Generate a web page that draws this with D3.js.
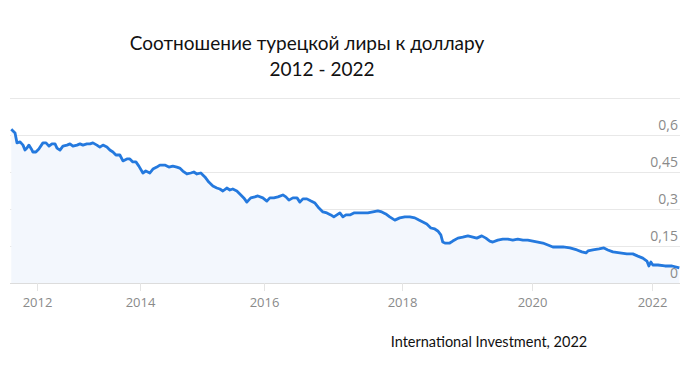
<!DOCTYPE html>
<html>
<head>
<meta charset="utf-8">
<script src="https://cdn.jsdelivr.net/npm/d3@7"></script>
<style>
  body { margin: 0; background: #fff; }
  svg { display: block; }
</style>
</head>
<body>
<svg id="chart" width="695" height="367"></svg>
<script>
// lira / dollar
const dates = [
  "2011-07-01","2011-07-28","2011-08-11","2011-09-02","2011-09-23","2011-10-07","2011-10-21","2011-11-04","2011-11-26","2011-12-03","2011-12-24",
  "2012-01-14","2012-02-12","2012-03-05","2012-03-26","2012-04-16","2012-05-08","2012-05-22","2012-06-12","2012-07-03","2012-08-01","2012-08-22","2012-09-12","2012-10-11","2012-11-01","2012-11-22","2012-12-20",
  "2013-01-11","2013-02-01","2013-03-01","2013-03-22","2013-04-13","2013-05-11","2013-06-01","2013-06-23","2013-07-14","2013-08-11","2013-09-02","2013-09-30","2013-10-21","2013-11-11","2013-12-03","2013-12-24",
  "2014-01-18","2014-02-04","2014-02-28","2014-03-18","2014-04-10","2014-04-28","2014-05-27","2014-06-20","2014-07-13","2014-08-06","2014-08-23","2014-09-10","2014-10-04","2014-10-27","2014-11-14","2014-12-02","2014-12-25",
  "2015-01-18","2015-02-10","2015-03-06","2015-03-29","2015-04-16","2015-05-04","2015-05-27","2015-06-14","2015-07-01","2015-07-25","2015-08-12","2015-09-04","2015-09-22","2015-10-15","2015-11-08","2015-11-26","2015-12-25",
  "2016-01-16","2016-02-01","2016-02-22","2016-03-15","2016-04-10","2016-04-26","2016-05-12","2016-06-02","2016-06-24","2016-07-09","2016-07-25","2016-08-15","2016-09-06","2016-09-27","2016-10-18","2016-11-08","2016-11-29","2016-12-20",
  "2017-01-05","2017-01-21","2017-02-06","2017-02-22","2017-03-10","2017-03-31","2017-04-21","2017-05-12","2017-06-08","2017-07-04","2017-07-31","2017-08-26","2017-09-16","2017-10-07","2017-10-28","2017-11-24","2017-12-20",
  "2018-01-17","2018-02-14","2018-03-14","2018-04-06","2018-04-28","2018-05-20","2018-06-12","2018-07-04","2018-07-21","2018-08-07","2018-08-18","2018-08-30","2018-09-15","2018-09-26","2018-10-13","2018-11-11","2018-12-08",
  "2019-01-06","2019-02-03","2019-02-25","2019-03-25","2019-04-17","2019-05-09","2019-05-26","2019-06-23","2019-07-21","2019-08-18","2019-09-15","2019-10-13","2019-11-11","2019-12-08",
  "2020-01-06","2020-02-06","2020-03-07","2020-04-07","2020-05-07","2020-06-01","2020-07-08","2020-08-19","2020-10-01","2020-10-31","2020-11-25","2020-12-07",
  "2021-01-06","2021-02-12","2021-03-14","2021-04-07","2021-05-08","2021-06-19","2021-08-01","2021-09-06","2021-10-07","2021-11-06","2021-12-01","2021-12-13","2021-12-25",
  "2022-01-06","2022-02-06","2022-03-20","2022-05-02","2022-06-15"
];
const rate = [
  0.623,0.608,0.568,0.572,0.559,0.539,0.547,0.559,0.539,0.531,0.531,
  0.543,0.568,0.568,0.555,0.564,0.564,0.547,0.539,0.555,0.559,0.564,0.555,0.559,0.564,0.559,0.564,
  0.564,0.568,0.559,0.551,0.559,0.551,0.539,0.531,0.519,0.519,0.495,0.503,0.503,0.491,0.491,0.474,
  0.446,0.454,0.446,0.462,0.470,0.478,0.478,0.470,0.474,0.470,0.466,0.454,0.442,0.446,0.450,0.442,0.446,
  0.430,0.409,0.393,0.385,0.381,0.373,0.385,0.377,0.381,0.373,0.361,0.345,0.328,0.345,0.349,0.353,0.345,
  0.332,0.345,0.345,0.349,0.357,0.349,0.336,0.345,0.345,0.328,0.341,0.341,0.332,0.324,0.304,0.288,0.284,0.276,
  0.268,0.276,0.284,0.268,0.276,0.276,0.284,0.284,0.284,0.284,0.288,0.292,0.288,0.280,0.268,0.255,0.264,
  0.268,0.268,0.264,0.255,0.247,0.239,0.223,0.219,0.211,0.195,0.166,0.162,0.162,0.162,0.170,0.182,0.186,
  0.191,0.186,0.182,0.191,0.182,0.170,0.166,0.174,0.178,0.178,0.174,0.178,0.174,0.174,
  0.170,0.166,0.162,0.154,0.146,0.146,0.146,0.142,0.134,0.126,0.122,0.130,
  0.134,0.138,0.142,0.134,0.126,0.122,0.118,0.118,0.109,0.101,0.089,0.069,0.085,
  0.073,0.073,0.069,0.069,0.061
];
const years = [2012, 2014, 2016, 2018, 2020, 2022];
const yTicks = [0, 0.15, 0.3, 0.45, 0.6, 0.75];
const yLabels = [0, 0.15, 0.3, 0.45, 0.6];

const title1 = "Соотношение турецкой лиры к доллару";
const title2 = "2012 - 2022";
const source = "International Investment, 2022";

const parse = d3.timeParse("%Y-%m-%d");
const data = dates.map((d, i) => ({ date: parse(d), value: rate[i] }));

const svg = d3.select("#chart");
const plotLeft = 10, plotRight = 680, plotTop = 97, plotBottom = 283;

// the source axis spaces years unevenly, so the time scale is piecewise
const x = d3.scaleTime()
  .domain([parse("2011-06-22")].concat(years.map(y => new Date(y, 0, 1)), [parse("2022-06-19")]))
  .range([plotLeft, 37, 140, 264, 402, 532, 652, plotRight]);

const y = d3.scaleLinear().domain([0, 0.75]).range([plotBottom, plotTop + 1]);

const ru = d3.formatLocale({ decimal: ",", thousands: " ", grouping: [3], currency: ["", ""] });
const fmt = ru.format(".2~f");

// grid
svg.append("g")
  .selectAll("line")
  .data(yTicks)
  .join("line")
  .attr("x1", plotLeft).attr("x2", plotRight)
  .attr("y1", d => Math.round(y(d)) + 0.5).attr("y2", d => Math.round(y(d)) + 0.5)
  .attr("stroke", d => d === 0 ? "#dcdcdc" : "#e8e8e8")
  .attr("stroke-width", 1);

// area + line
const area = d3.area()
  .x(d => x(d.date))
  .y0(plotBottom)
  .y1(d => y(d.value));

const line = d3.line()
  .x(d => x(d.date))
  .y(d => y(d.value));

svg.append("path")
  .datum(data)
  .attr("d", area)
  .attr("fill", "#f3f7fd");

svg.append("path")
  .datum(data)
  .attr("d", line)
  .attr("fill", "none")
  .attr("stroke", "#2479de")
  .attr("stroke-width", 2.8)
  .attr("stroke-linejoin", "round");

// x axis
const xAxis = svg.append("g")
  .attr("transform", `translate(0,${plotBottom})`)
  .call(d3.axisBottom(x)
    .tickValues(years.map(y => new Date(y, 0, 1)))
    .tickFormat(d3.timeFormat("%Y"))
    .tickSize(8)
    .tickPadding(7));
xAxis.select(".domain").remove();
xAxis.selectAll(".tick line").attr("stroke", "#e4e4e4");
xAxis.selectAll(".tick text")
  .attr("fill", "#8a8a8a")
  .style("font-family", "'Open Sans', sans-serif")
  .style("font-size", "13px");

// y labels
svg.append("g")
  .selectAll("text")
  .data(yLabels)
  .join("text")
  .attr("x", 678)
  .attr("y", d => y(d) - 5)
  .attr("text-anchor", "end")
  .attr("fill", "#8a8a8a")
  .style("font-family", "'Open Sans', sans-serif")
  .style("font-size", "14px")
  .text(d => fmt(d));

// titles
svg.append("text")
  .attr("x", 307).attr("y", 50)
  .attr("text-anchor", "middle")
  .attr("fill", "#111")
  .style("font-family", "Lato, sans-serif")
  .style("font-size", "19px")
  .text(title1);

svg.append("text")
  .attr("x", 322).attr("y", 76)
  .attr("text-anchor", "middle")
  .attr("fill", "#111")
  .style("font-family", "Lato, sans-serif")
  .style("font-size", "19px")
  .text(title2);

svg.append("text")
  .attr("x", 489).attr("y", 347)
  .attr("text-anchor", "middle")
  .attr("fill", "#111")
  .style("font-family", "Lato, sans-serif")
  .style("font-size", "14.5px")
  .text(source);
</script>
</body>
</html>
